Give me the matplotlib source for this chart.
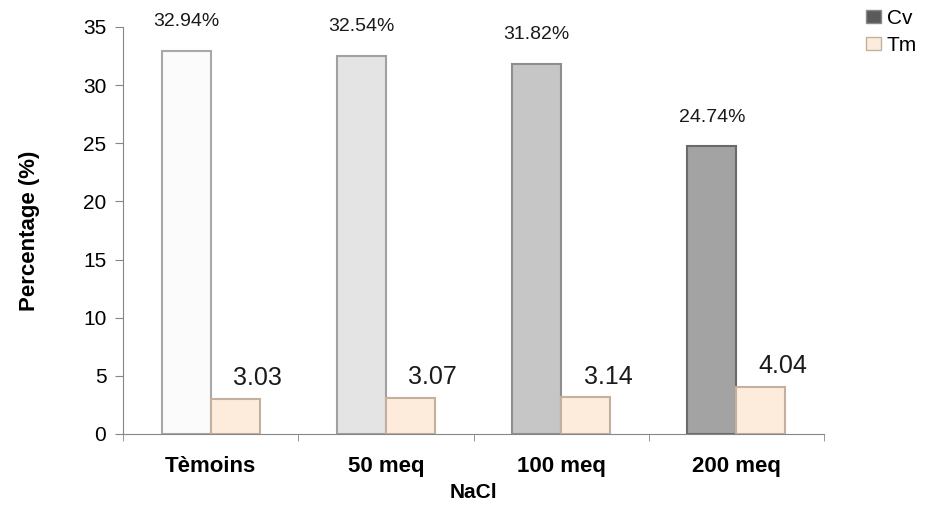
import numpy as np
import matplotlib.pyplot as plt
from matplotlib.patches import Patch

categories = ["Tèmoins", "50 meq", "100 meq", "200 meq"]
cv_values = [32.94, 32.54, 31.82, 24.74]
tm_values = [3.03, 3.07, 3.14, 4.04]
cv_labels = ["32.94%", "32.54%", "31.82%", "24.74%"]
tm_labels = ["3.03", "3.07", "3.14", "4.04"]

cv_colors = ["#fbfbfb", "#e4e4e4", "#c6c6c6", "#a3a3a3"]
cv_edges = ["#a8a8a8", "#a0a0a0", "#8e8e8e", "#6a6a6a"]
tm_color = "#fdebdc"
tm_edge = "#c4b09e"

plt.rcParams["font.family"] = ["Liberation Sans", "DejaVu Sans"]

fig = plt.figure(figsize=(9.27, 5.29), dpi=100)
ax = fig.add_axes([0.1327, 0.1796, 0.7562, 0.7694])

x = np.arange(len(categories))
w = 0.28

cv_bars = ax.bar(x - w / 2, cv_values, w, color=cv_colors,
                 edgecolor=cv_edges, linewidth=1.5, zorder=2)
tm_bars = ax.bar(x + w / 2, tm_values, w, color=tm_color,
                 edgecolor=tm_edge, linewidth=1.5, zorder=2)

# valeurs au-dessus des barres
for xi, v, lab in zip(x, cv_values, cv_labels):
    ax.annotate(lab, (xi - w / 2, v), xytext=(0, 21), textcoords="offset points",
                ha="center", va="center", fontsize=14, color="#1a1a1a")
for xi, v, lab in zip(x, tm_values, tm_labels):
    ax.annotate(lab, (xi + w / 2, v), xytext=(16, 15), textcoords="offset points",
                ha="center", va="center", fontsize=18, color="#1a1a1a")

ax.set_xlim(-0.5, len(categories) - 0.5)
ax.set_ylim(0, 35)
ax.set_yticks(range(0, 36, 5))
ax.set_xticks(x)
ax.set_xticklabels(categories, fontsize=16, fontweight="bold")
ax.set_xticks(np.arange(-0.5, len(categories), 1), minor=True)
ax.tick_params(axis="x", which="major", length=0, pad=16)
ax.tick_params(axis="x", which="minor", length=5, color="#868686", direction="out")
ax.tick_params(axis="y", length=6, color="#868686", labelsize=15, pad=6)

ax.set_xlabel("NaCl", fontsize=15, fontweight="bold", labelpad=4)
ax.set_ylabel("Percentage (%)", fontsize=16, fontweight="bold", labelpad=31)

for s in ["top", "right"]:
    ax.spines[s].set_visible(False)
for s in ["left", "bottom"]:
    ax.spines[s].set_color("#868686")

handles = [Patch(facecolor="#5a5a5a", edgecolor="#8a8a8a"),
           Patch(facecolor=tm_color, edgecolor=tm_edge)]
fig.legend(handles, ["Cv", "Tm"], loc="upper left", bbox_to_anchor=(0.914, 1.018),
           frameon=False, fontsize=15, handlelength=0.7, handleheight=0.6,
           handletextpad=0.3, labelspacing=0.35)

fig.savefig("out.png", dpi=100)
